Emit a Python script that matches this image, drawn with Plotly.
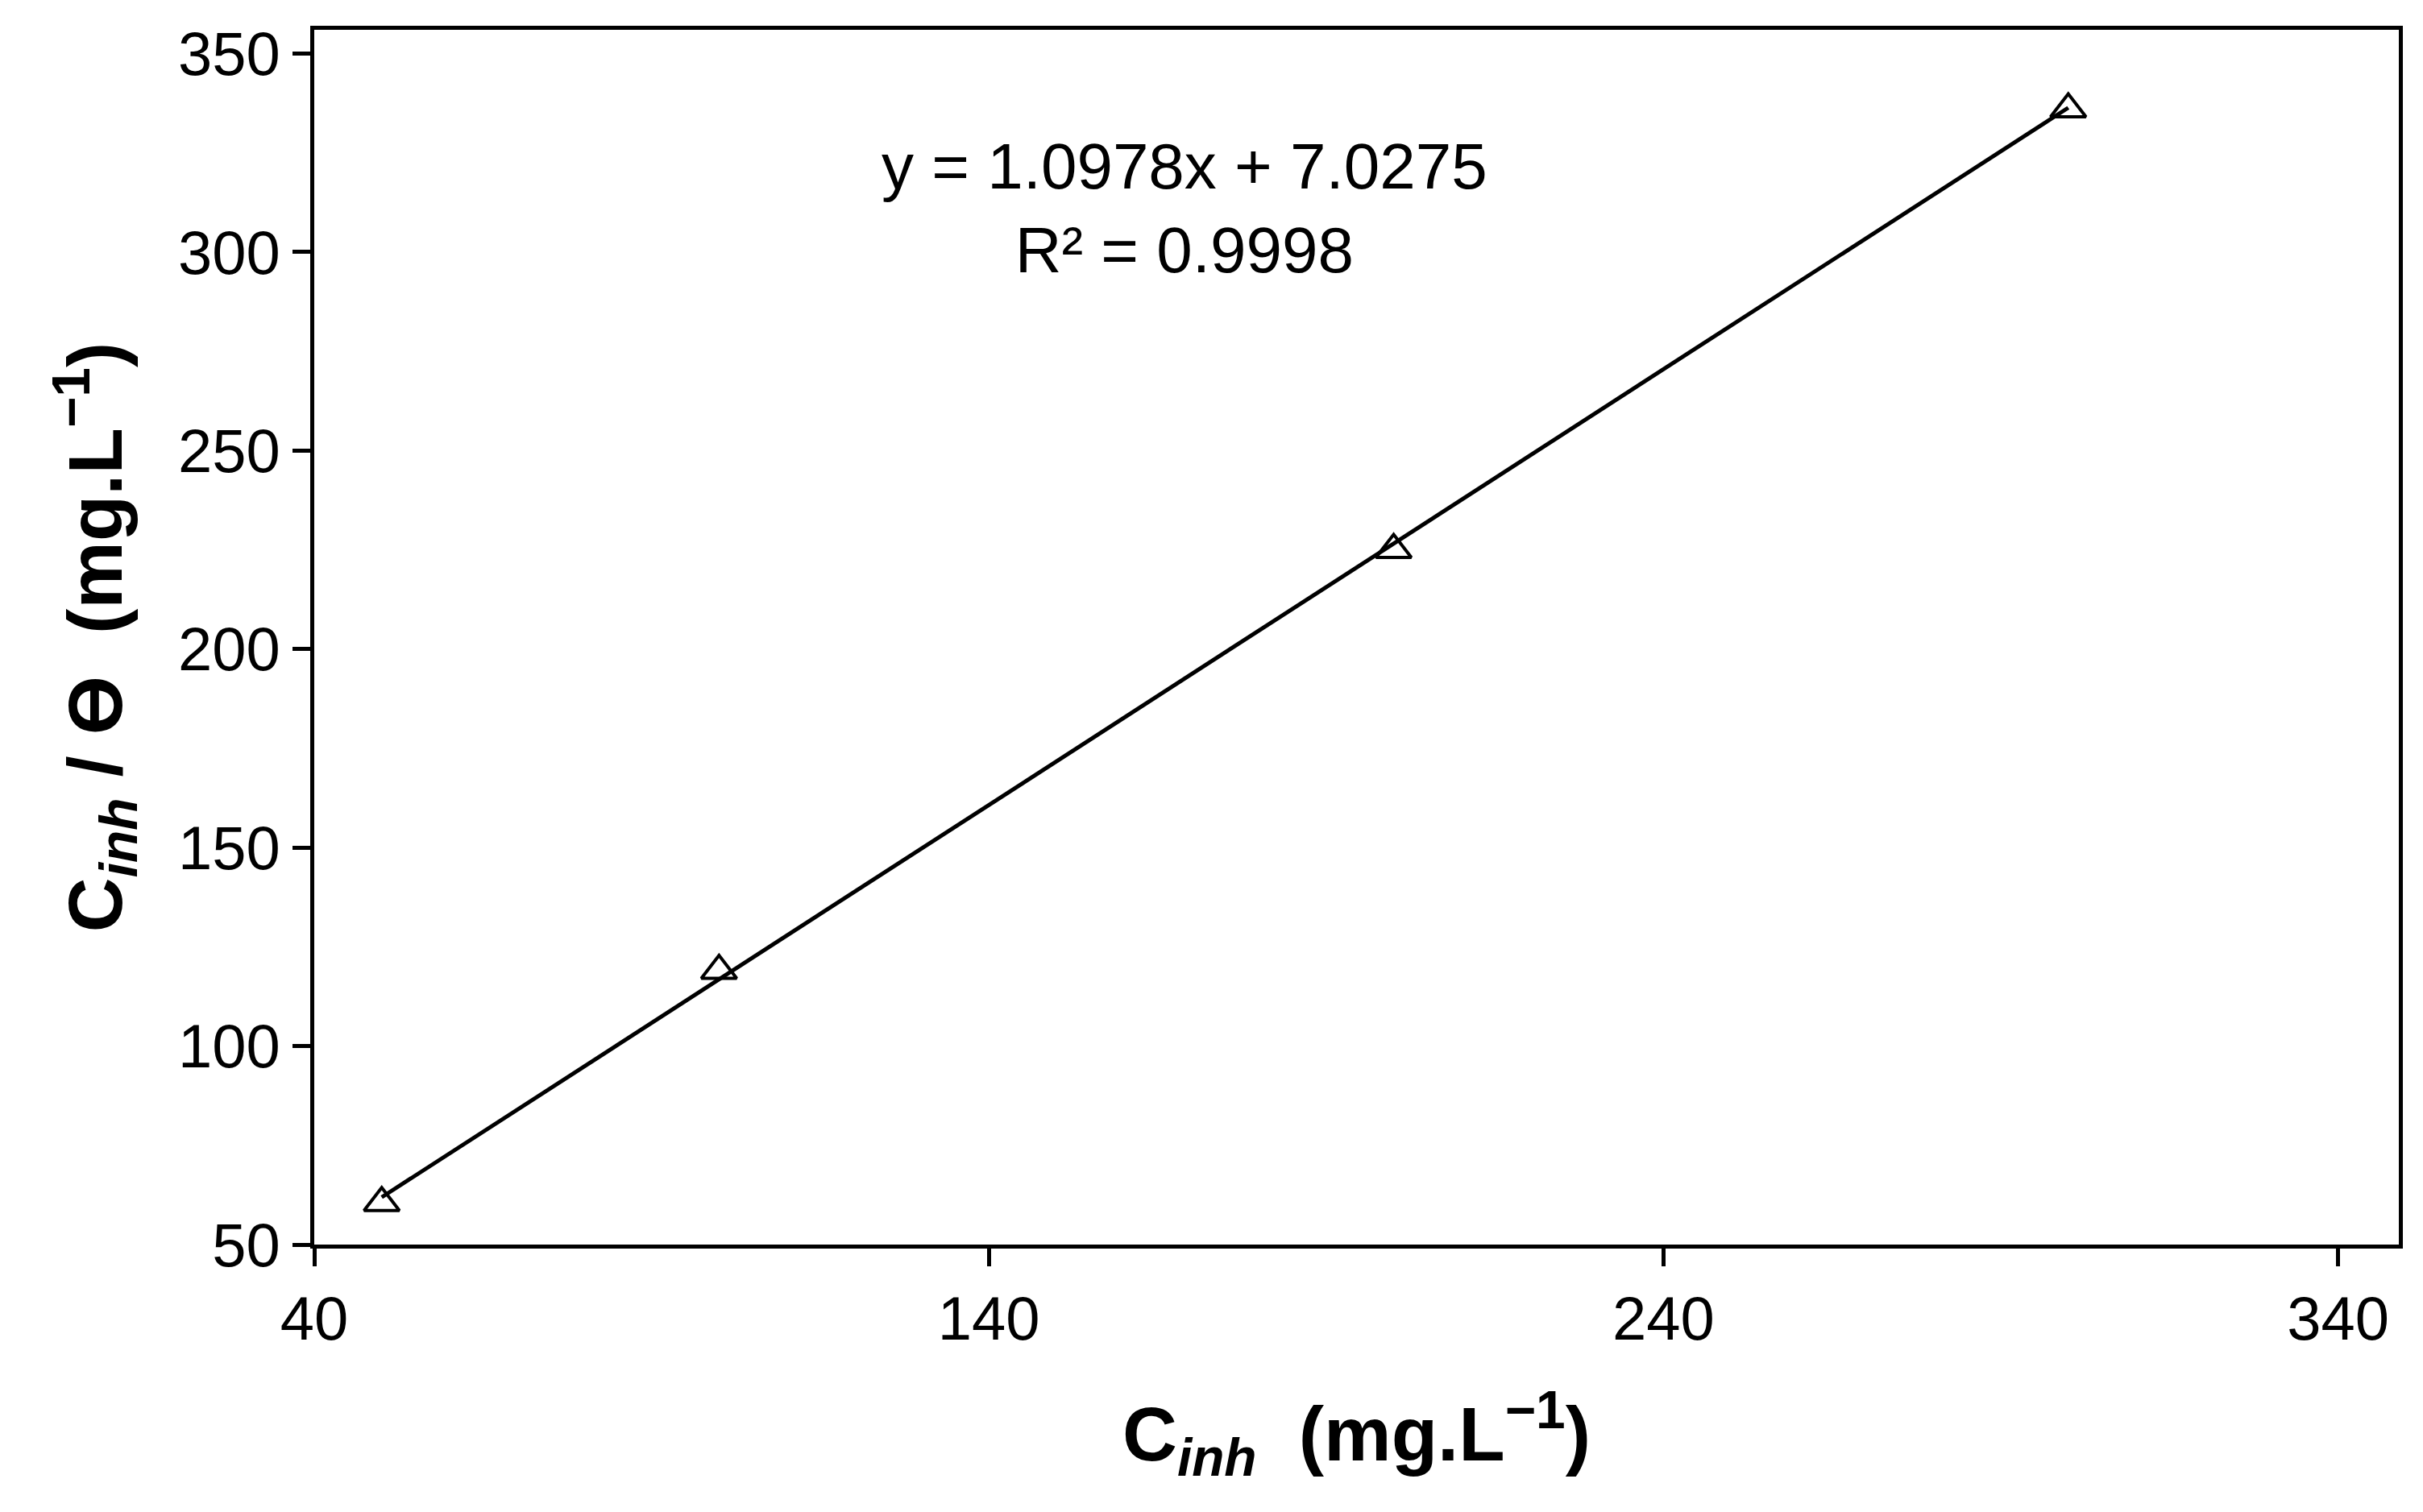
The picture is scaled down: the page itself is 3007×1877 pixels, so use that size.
import plotly.graph_objects as go

# measured points
c_inh = [50, 100, 200, 300]
c_theta = [60.5, 119, 225, 336]

# linear fit shown on chart
slope = 1.0978
intercept = 7.0275
fit_x = [50, 300]
fit_y = [slope * v + intercept for v in fit_x]

x_ticks = [40, 140, 240, 340]
y_ticks = [50, 100, 150, 200, 250, 300, 350]

fig = go.Figure()
fig.add_trace(go.Scatter(x=fit_x, y=fit_y, mode='lines',
                         line=dict(color='black', width=5), showlegend=False))
fig.add_trace(go.Scatter(x=c_inh, y=c_theta, mode='markers',
                         marker=dict(symbol='triangle-up-open', size=38, color='black',
                                     line=dict(width=4)),
                         showlegend=False))

fig.add_annotation(x=169, y=311, text='y = 1.0978x + 7.0275<br>R² = 0.9998',
                   showarrow=False, font=dict(size=80, color='black'), align='center')

axis_common = dict(showline=True, linecolor='black', linewidth=5, mirror=True,
                   ticks='outside', ticklen=22, tickwidth=5, tickcolor='black',
                   showgrid=False, zeroline=False,
                   tickfont=dict(size=76, color='black'))

fig.update_xaxes(range=[40, 349], tickvals=x_ticks,
                 title=dict(text='<b>C<sub><i>inh</i></sub>  (mg.L<sup>−1</sup>)</b>',
                            font=dict(size=94, color='black'), standoff=70),
                 **axis_common)
fig.update_yaxes(range=[50, 356], tickvals=y_ticks,
                 title=dict(text='<b>C<sub><i>inh</i></sub> / ϴ  (mg.L<sup>−1</sup>)</b>',
                            font=dict(size=94, color='black'), standoff=40),
                 **axis_common)

fig.update_layout(width=3007, height=1877, plot_bgcolor='white', paper_bgcolor='white',
                  font=dict(family='Liberation Sans'),
                  margin=dict(l=382, r=38, t=29, b=340))

fig.write_html("out.html")
